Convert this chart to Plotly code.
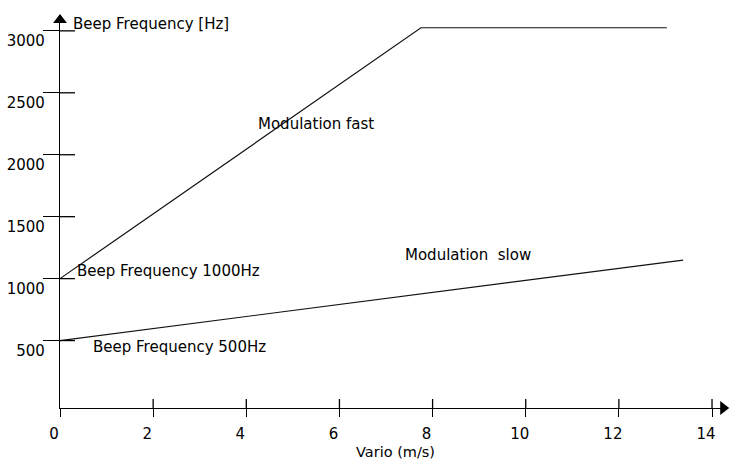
import plotly.graph_objects as go

# ---- data ----
fast_x = [0, 7.75, 13.03]
fast_y = [1000, 3025, 3025]
slow_x = [0, 13.38]
slow_y = [500, 1150]

x_ticks = [0, 2, 4, 6, 8, 10, 12, 14]
x_tick_labels = ["0", "2", "4", "6", "8", "10", "12", "14"]
y_ticks = [500, 1000, 1500, 2000, 2500, 3000]
y_tick_labels = ["500", "1000", "1500", "2000", "2500", "3000"]

x_title = "Vario (m/s)"
y_title = "Beep Frequency [Hz]"
label_fast = "Modulation fast"
label_slow = "Modulation\u00a0 slow"
label_1000 = "Beep Frequency 1000Hz"
label_500 = "Beep Frequency 500Hz"

# ---- layout constants ----
FONT = "DejaVu Sans"
X_RANGE = [0, 14.30]
Y_RANGE = [-44.4, 3128]
INK = "black"

fig = go.Figure()

fig.add_trace(go.Scatter(x=fast_x, y=fast_y, mode="lines",
                         line=dict(color="#111", width=1.2), hoverinfo="skip",
                         showlegend=False))
fig.add_trace(go.Scatter(x=slow_x, y=slow_y, mode="lines",
                         line=dict(color="#111", width=1.2), hoverinfo="skip",
                         showlegend=False))

# axis arrowheads at the ends of the axes
fig.add_trace(go.Scatter(x=[X_RANGE[0], X_RANGE[1] - 0.06],
                         y=[Y_RANGE[1] - 41, Y_RANGE[0]],
                         mode="markers",
                         marker=dict(symbol=["triangle-up", "triangle-right"],
                                     size=12, color=INK, line=dict(width=0)),
                         cliponaxis=False, hoverinfo="skip", showlegend=False))

shapes = []
for v in y_ticks:
    shapes.append(dict(type="line", xref="x", yref="y", xsizemode="pixel",
                       xanchor=X_RANGE[0], x0=0, x1=15, y0=v, y1=v,
                       line=dict(color=INK, width=1.3)))
for v in x_ticks[1:]:
    shapes.append(dict(type="line", xref="x", yref="y", ysizemode="pixel",
                       yanchor=Y_RANGE[0], y0=0, y1=9, x0=v, x1=v,
                       line=dict(color=INK, width=1.3)))

txt = dict(family=FONT, size=15, color=INK)
annotations = [
    dict(text=label_fast, x=5.5, y=2248, xref="x", yref="y",
         showarrow=False, font=txt, xanchor="center", yanchor="middle"),
    dict(text=label_slow, x=7.36, y=1190, xref="x", yref="y",
         showarrow=False, font=txt, xanchor="left", yanchor="middle"),
    dict(text=label_1000, x=0.32, y=1061, xref="x", yref="y",
         showarrow=False, font=txt, xanchor="left", yanchor="middle"),
    dict(text=label_500, x=0.66, y=448, xref="x", yref="y",
         showarrow=False, font=txt, xanchor="left", yanchor="middle"),
    dict(text=y_title, x=0, xshift=11, y=3055, xref="paper", yref="y",
         showarrow=False, font=txt, xanchor="left", yanchor="middle"),
    dict(text=x_title, x=7.21, y=0, yshift=-44, xref="x", yref="paper",
         showarrow=False, font=dict(family=FONT, size=14.5, color=INK),
         xanchor="center", yanchor="middle"),
]

fig.update_layout(
    width=730, height=461,
    margin=dict(l=60, r=4, t=15, b=53, autoexpand=False),
    paper_bgcolor="white", plot_bgcolor="white",
    font=dict(family=FONT, size=15, color=INK),
    shapes=shapes, annotations=annotations,
    xaxis=dict(range=X_RANGE, showgrid=False, zeroline=False, automargin=False,
               showline=True, linecolor=INK, linewidth=1.3,
               tickmode="array", tickvals=x_ticks, ticktext=x_tick_labels,
               ticks="outside", ticklen=8, tickwidth=1.3, tickcolor=INK,
               ticklabelshift=-6, ticklabelstandoff=4,
               tickfont=dict(family=FONT, size=15, color=INK)),
    yaxis=dict(range=Y_RANGE, showgrid=False, zeroline=False, automargin=False,
               showline=True, linecolor=INK, linewidth=1.3,
               tickmode="array", tickvals=y_ticks, ticktext=y_tick_labels,
               ticks="outside", ticklen=16, tickwidth=1.3, tickcolor=INK,
               ticklabelshift=10, ticklabelstandoff=-5,
               tickfont=dict(family=FONT, size=15, color=INK)),
)

fig.write_html("out.html",
               config={"displayModeBar": False},
               post_script="document.body.style.margin='0px';"
                           "document.body.style.padding='0px';")
